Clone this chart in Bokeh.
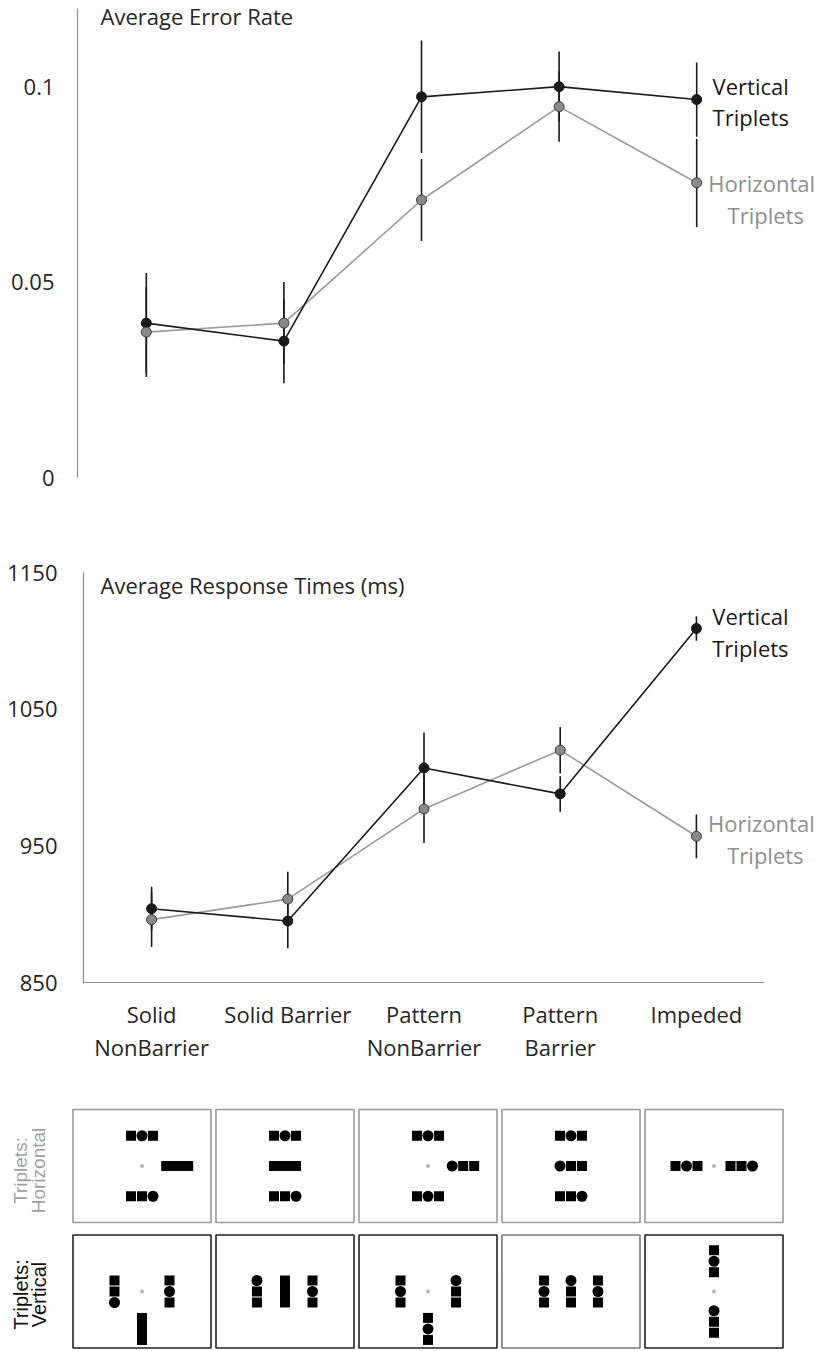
import math
from bokeh.plotting import figure
from bokeh.models import Label, Range1d, FixedTicker
from bokeh.layouts import column
from bokeh.embed import file_html
from bokeh.resources import INLINE

# ---------------- data ----------------
categories = ["Solid\nNonBarrier", "Solid Barrier", "Pattern\nNonBarrier", "Pattern\nBarrier", "Impeded"]

err_vertical = [0.0395, 0.0349, 0.0974, 0.1000, 0.0967]
err_vertical_se = [0.0128, 0.0108, 0.0144, 0.0090, 0.0095]
err_horizontal = [0.0372, 0.0395, 0.0710, 0.0949, 0.0754]
err_horizontal_se = [0.0115, 0.0105, 0.0105, 0.0090, 0.0113]

rt_vertical = [904, 895, 1007, 988, 1109]
rt_vertical_se = [16, 20, 26, 13, 9]
rt_horizontal = [896, 911, 977, 1020, 957]
rt_horizontal_se = [20, 20, 25, 17, 16]

err_ticks = [0, 0.05, 0.1]
err_tick_labels = ["0", "0.05", "0.1"]
rt_ticks = [850, 950, 1050, 1150]

series_names = [("Vertical", "Triplets"), ("Horizontal", "Triplets")]
row_names = [("Triplets:", "Horizontal"), ("Triplets:", "Vertical")]

# stimulus sketches: (pattern, dx, dy) in element-pitch units from fixation;
# S = square, C = circle, BAR = solid bar; patterns read left->right / top->bottom
stim_horizontal = [
    [("SCS", 0, 2.75), ("SSC", 0, -2.75), ("BAR", 3.2, 0)],
    [("SCS", 0, 2.75), ("BAR", 0, 0), ("SSC", 0, -2.75)],
    [("SCS", 0, 2.75), ("CSS", 3.2, 0), ("SCS", 0, -2.75)],
    [("SCS", 0, 2.75), ("CSS", 0, 0), ("SSC", 0, -2.75)],
    [("SCS", -2.5, 0), ("SSC", 2.5, 0)],
]
fix_horizontal = [True, False, True, False, True]
stim_vertical = [
    [("SSC", -2.5, 0), ("SCS", 2.5, 0), ("BAR", 0, -3.4)],
    [("CSS", -2.55, 0), ("BAR", 0, 0), ("SCS", 2.5, 0)],
    [("SCS", -2.5, 0), ("CSS", 2.55, 0), ("SCS", 0, -3.4)],
    [("SCS", -2.45, 0), ("CSS", 0, 0), ("SCS", 2.45, 0)],
    [("SCS", 0, 2.75), ("CSS", 0, -2.75)],
]
fix_vertical = [True, False, True, False, True]

# ---------------- style ----------------
FONT = "Open Sans"
FS = "22px"
BLACK = "#1a1a1a"
GRAY_LINE = "#9a9a9a"
GRAY_PT = "#8a8a8a"
GRAY_TXT = "#8f8f8f"
AXIS = "#8c8c8c"
TXT = "#262626"
W = 817

xs = list(range(len(categories)))
last = xs[-1]


def style_axis(ax, standoff):
    ax.axis_line_color = AXIS
    ax.axis_line_width = 1.2
    ax.major_tick_line_color = None
    ax.minor_tick_line_color = None
    ax.major_label_text_font = FONT
    ax.major_label_text_font_size = FS
    ax.major_label_text_color = TXT
    ax.major_label_standoff = standoff


def draw_series(p, v, v_se, h, h_se):
    p.line(xs, h, color=GRAY_LINE, line_width=1.6)
    p.line(xs, v, color=BLACK, line_width=1.6)
    p.segment(x0=xs, y0=[a - b for a, b in zip(v, v_se)],
              x1=xs, y1=[a + b for a, b in zip(v, v_se)],
              color=BLACK, line_width=1.6)
    p.segment(x0=xs, y0=[a - b for a, b in zip(h, h_se)],
              x1=xs, y1=[a + b for a, b in zip(h, h_se)],
              color=BLACK, line_width=1.6)
    p.scatter(xs, v, size=10, fill_color=BLACK, line_color=BLACK)
    p.scatter(xs, h, size=10, fill_color=GRAY_PT, line_color="#3a3a3a", line_width=1)


def add_text(p, text, x, y, xo, yo, color, align="center", baseline="middle"):
    p.add_layout(Label(x=x, y=y, x_offset=xo, y_offset=yo, text=text,
                       text_font=FONT, text_font_size=FS, text_color=color,
                       text_align=align, text_baseline=baseline))


def chart(height, left, top, bottom, cat_px, yr, standoff):
    frame_w = W - left - 2
    x_end = -0.5 + frame_w / cat_px
    p = figure(x_range=Range1d(-0.5, x_end), y_range=Range1d(*yr),
               width=W, height=height, min_border_left=left, min_border_right=2,
               min_border_top=top, min_border_bottom=bottom,
               toolbar_location=None, output_backend="svg")
    p.frame_align = False
    p.outline_line_color = None
    p.grid.visible = False
    style_axis(p.yaxis[0], standoff)
    return p


# ---------------- top chart: error rate ----------------
pA = chart(548, 77, 8, 71, 137.6, (0, 0.12), 17)
pA.xaxis.visible = False
pA.yaxis.ticker = FixedTicker(ticks=err_ticks)
pA.yaxis.major_label_overrides = dict(zip(err_ticks, err_tick_labels))
draw_series(pA, err_vertical, err_vertical_se, err_horizontal, err_horizontal_se)
add_text(pA, "Average Error Rate", -0.5, 0.12, 23, -7.5, TXT, align="left")
add_text(pA, series_names[0][0], last, err_vertical[-1], 54, 14, BLACK)
add_text(pA, series_names[0][1], last, err_vertical[-1], 54, -17, BLACK)
add_text(pA, series_names[1][0], last, err_horizontal[-1], 65, 0, GRAY_TXT)
add_text(pA, series_names[1][1], last, err_horizontal[-1], 69, -32, GRAY_TXT)

# ---------------- bottom chart: response times ----------------
rt_px = 410 / 300.0
pB = chart(552, 83, 24, 117, 136.2, (850 - 1 / rt_px, 1150), 20)
pB.yaxis.ticker = FixedTicker(ticks=rt_ticks)
style_axis(pB.xaxis[0], 9)
pB.xaxis.axis_line_color = None
pB.xaxis.ticker = FixedTicker(ticks=xs)
pB.xaxis.major_label_overrides = dict(zip(xs, categories))
pB.xaxis.major_label_text_line_height = 1.1
pB.segment(x0=[-0.5], y0=[rt_ticks[0]], x1=[last + 0.5], y1=[rt_ticks[0]],
           color=AXIS, line_width=1.2)
draw_series(pB, rt_vertical, rt_vertical_se, rt_horizontal, rt_horizontal_se)
add_text(pB, "Average Response Times (ms)", -0.5, 1150, 17, -12, TXT, align="left")
add_text(pB, series_names[0][0], last, rt_vertical[-1], 54, 13, BLACK)
add_text(pB, series_names[0][1], last, rt_vertical[-1], 54, -19, BLACK)
add_text(pB, series_names[1][0], last, rt_horizontal[-1], 65, 13, GRAY_TXT)
add_text(pB, series_names[1][1], last, rt_horizontal[-1], 69, -19, GRAY_TXT)

# ---------------- stimulus panel ----------------
BOX_LEFT, FW, FH = 70, 715, 251
ROW_PX = 125.5
ux = 5.0 / FW
uy = 1.0 / ROW_PX
y0 = 0.5 - (FH - 65.5 - ROW_PX) / ROW_PX
pC = figure(x_range=Range1d(-BOX_LEFT * ux, 5), y_range=Range1d(y0, y0 + FH / ROW_PX),
            width=W, height=FH, min_border_left=0, min_border_right=W - BOX_LEFT - FW,
            min_border_top=0, min_border_bottom=0,
            x_axis_location=None, y_axis_location=None,
            toolbar_location=None, output_backend="svg")
pC.frame_align = False
pC.outline_line_color = None
pC.grid.visible = False

PITCH = 11.0
rows = [(1.5, "h", stim_horizontal, fix_horizontal, ["#9a9a9a"] * 5),
        (0.5, "v", stim_vertical, fix_vertical, ["#222222", "#222222", "#222222", "#7a7a7a", "#222222"])]

bx, by, bcol = [], [], []
sqx, sqy, cix, ciy, fx, fy = [], [], [], [], [], []
barx, bary, barw, barh = [], [], [], []
for row_y, orient, stims, fixes, cols in rows:
    for i, (trips, fix) in enumerate(zip(stims, fixes)):
        cx, cy = i + 0.5, row_y
        bx.append(cx); by.append(cy); bcol.append(cols[i])
        if fix:
            fx.append(cx); fy.append(cy)
        for pattern, dx, dy in trips:
            tx = cx + dx * PITCH * ux
            ty = cy + dy * PITCH * uy
            if pattern == "BAR":
                barx.append(tx); bary.append(ty)
                if orient == "h":
                    barw.append((3 * PITCH - 1) * ux); barh.append(10 * uy)
                else:
                    barw.append(10 * ux); barh.append((3 * PITCH - 1) * uy)
                continue
            for k, ch in enumerate(pattern):
                off = (k - 1) * PITCH
                if orient == "h":
                    ex, ey = tx + off * ux, ty
                else:
                    ex, ey = tx, ty - off * uy
                if ch == "S":
                    sqx.append(ex); sqy.append(ey)
                else:
                    cix.append(ex); ciy.append(ey)

pC.rect(bx, by, width=138 * ux, height=113 * uy, fill_color="white",
        line_color=bcol, line_width=1.6)
pC.scatter(fx, fy, size=3, color="#b0b0b0")
pC.rect(barx, bary, width=barw, height=barh, fill_color="black", line_color=None)
pC.scatter(sqx, sqy, marker="square", size=10, fill_color="black", line_color=None)
pC.scatter(cix, ciy, marker="circle", size=11, fill_color="black", line_color=None)

for (row_y, _, _, _, _), (l1, l2), color, yo, fs in zip(rows, row_names, ["#a0a0a0", "#111111"],
                                                        [-4.5, -3], ["19px", "20px"]):
    for txt, xo in [(l1, -50), (l2, -32)]:
        pC.add_layout(Label(x=0, y=row_y, x_offset=xo, y_offset=yo, text=txt,
                            angle=math.pi / 2, text_font="Liberation Sans",
                            text_font_size=fs, text_color=color,
                            text_align="center", text_baseline="middle"))

layout = column(pA, pB, pC, spacing=0)
open("out.html", "w").write(file_html(layout, INLINE))
